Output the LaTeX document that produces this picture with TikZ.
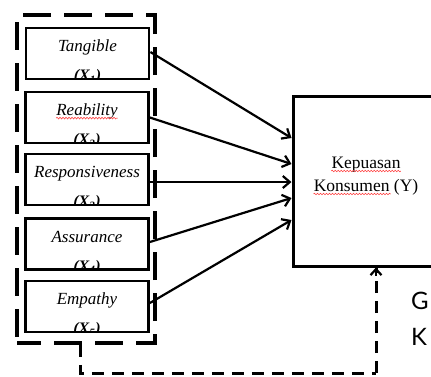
\documentclass[tikz,border=0pt]{standalone}
\usepackage{fontspec}
\setmainfont{Liberation Serif}
\newfontfamily\sidefont{Lato}
\usetikzlibrary{arrows.meta,calc,decorations.pathmorphing}
\begin{document}
\begin{tikzpicture}[x=1pt,y=-1pt,
  smallbox/.style={draw,line width=2.8pt,minimum width=123pt,minimum height=51pt,inner sep=0pt},
  mainbox/.style={draw,line width=3pt,inner sep=0pt},
  grpbox/.style={draw,line width=3.8pt,dash pattern=on 28pt off 13pt,dash phase=4pt,inner sep=0pt,minimum width=138pt,minimum height=328pt},
  lbl/.style={font=\fontsize{17}{17}\selectfont\itshape,inner sep=0pt,anchor=base},
  sublbl/.style={font=\fontsize{16}{16}\selectfont\bfseries\itshape,inner sep=0pt,anchor=base},
  mainlbl/.style={font=\fontsize{17.5}{17.5}\selectfont,inner sep=0pt,anchor=base},
  sidelbl/.style={font=\sidefont\fontsize{24}{24}\selectfont,inner sep=0pt,anchor=base west},
  arr/.style={line width=2.2pt,-{Straight Barb[length=7pt,width=12pt,line width=2.2pt]}},
  dconn/.style={line width=3pt,dash pattern=on 12pt off 8pt},
  wavy/.style={red!75,line width=0.6pt,decorate,decoration={snake,amplitude=0.8pt,segment length=3pt}}]
\useasboundingbox (0,0) rectangle (431,376);
\clip (0,0) rectangle (431,376);
\fill[white] (0,0) rectangle (431,376);

% group box
\node[grpbox] (grp) at (86,179) {};

% small boxes
\node[smallbox] (t) at (87.5,53.5) {};
\node[smallbox] (r) at (87,117.5) {};
\node[smallbox] (s) at (87,179.5) {};
\node[smallbox] (a) at (87,244) {};
\node[smallbox] (e) at (87,306.5) {};

\foreach \b/\txt/\n in {t/Tangible/1,r/Reability/2,s/Responsiveness/3,a/Assurance/4,e/Empathy/5}{
  \begin{scope}
    \clip ($(\b.south west)+(1.4,-1.4)$) rectangle ($(\b.north east)+(-1.4,1.4)$);
    \node[lbl] (\b l1) at ($(\b.north)+(0,25)$) {\txt};
    \node[sublbl] (\b l2) at ($(\b.north)+(0,54)$) {(X\textsubscript{\n})};
  \end{scope}
}
\draw[wavy] ($(rl1.base west)+(0,2.5)$) -- ($(rl1.base east)+(0,2.5)$);

% main box
\node[mainbox,minimum width=147pt,minimum height=170pt] (m) at (366.5,181) {};
\node[mainlbl] (m1) at (366,168) {Kepuasan};
\node[mainlbl] (m2) at (366,191) {Konsumen (Y)};
\draw[wavy] ($(m1.base west)+(0,3)$) -- ($(m1.base east)+(0,3)$);
\draw[wavy] ($(m2.base west)+(0,3)$) -- ($(m2.base west)+(77,3)$);

% arrows
\coordinate (p1) at (m.west |- 0,138);
\coordinate (p2) at (m.west |- 0,164);
\coordinate (p3) at (m.west |- 0,182);
\coordinate (p4) at (m.west |- 0,198);
\coordinate (p5) at (m.west |- 0,220);
\draw[arr] ($(t.east)+(0,-1.5)$) -- (p1);
\draw[arr] (r.east) -- (p2);
\draw[arr] ($(s.east)+(0,2.5)$) -- (p3);
\draw[arr] ($(a.east)+(0,-2)$) -- (p4);
\draw[arr] ($(e.east)+(0,-3.5)$) -- (p5);

% bottom dashed connector
\coordinate (c1) at (80,373);
\coordinate (c2) at (376,373);
\draw[dconn] (grp.south -| c1) -- (c1) -- (c2);
\draw[dconn] (c2) -- (m.south -| c2);
\draw[line width=2.2pt,-{Straight Barb[length=6pt,width=11pt,line width=2.2pt]}] ($(m.south -| c2)+(0,8)$) -- (m.south -| c2);

% side text
\node[sidelbl] (g1) at (411,309) {G};
\node[sidelbl] (g2) at (411,345) {K};
\end{tikzpicture}
\end{document}
